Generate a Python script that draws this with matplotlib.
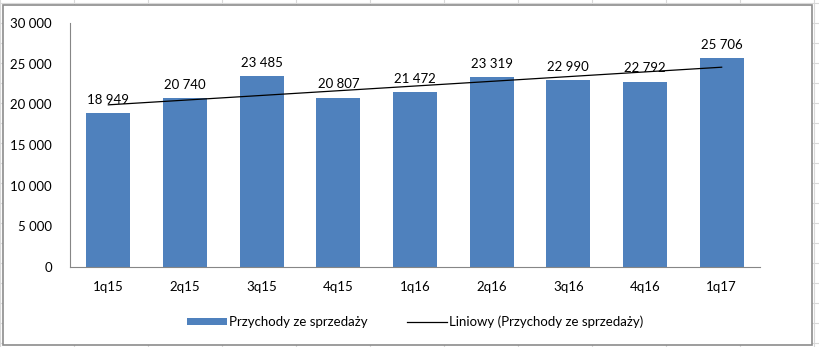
import numpy as np
import matplotlib.pyplot as plt
from matplotlib.patches import Rectangle
from matplotlib.lines import Line2D

quarters = ["1q15", "2q15", "3q15", "4q15", "1q16", "2q16", "3q16", "4q16", "1q17"]
revenue = [18949, 20740, 23485, 20807, 21472, 23319, 22990, 22792, 25706]
y_ticks = [0, 5000, 10000, 15000, 20000, 25000, 30000]

plt.rcParams["font.family"] = ["Lato", "DejaVu Sans"]
W, H = 819, 347
fig = plt.figure(figsize=(W / 100, H / 100), dpi=100)

# spreadsheet cells behind the chart
for gx in range(0, W + 1, 74):
    fig.add_artist(Line2D([gx / W, gx / W], [0, 1], color="#d9d9d9", lw=0.8, zorder=-3))
for gy in range(3, H + 1, 20):
    fig.add_artist(Line2D([0, 1], [1 - gy / H, 1 - gy / H], color="#d9d9d9", lw=0.8, zorder=-3))
fig.add_artist(Rectangle((3 / W, 1 - 345 / H), 809 / W, 340 / H, facecolor="white",
                         edgecolor="#8c8c8c", lw=1.2, transform=fig.transFigure, zorder=-2))

ax = fig.add_axes([70 / W, 1 - 267 / H, 690 / W, 244 / H])
ax.patch.set_alpha(0)
x = np.arange(len(quarters))
bars = ax.bar(x, revenue, width=0.57, color="#4f81bd", label="Przychody ze sprzedaży", zorder=2)

coef = np.polyfit(x, revenue, 1)
trend, = ax.plot(x, np.polyval(coef, x), color="black", lw=0.9, zorder=3,
                 label="Liniowy (Przychody ze sprzedaży)")

for xi, v in zip(x, revenue):
    ax.text(xi, v + 900, f"{v:,}".replace(",", " "), ha="center", va="bottom", fontsize=9.5)

ax.set_xlim(-0.5, len(quarters) - 0.5)
ax.set_ylim(0, 30000)
ax.set_yticks(y_ticks)
ax.set_yticklabels([f"{t:,}".replace(",", " ") for t in y_ticks], fontsize=9.5)
ax.set_xticks(x)
ax.set_xticklabels(quarters, fontsize=9.5)
ax.tick_params(length=0, pad=10)
ax.tick_params(axis="y", pad=13)
for s in ["top", "right"]:
    ax.spines[s].set_visible(False)
for s in ["left", "bottom"]:
    ax.spines[s].set_color("#868686")

ax.legend([bars, trend], [bars.get_label(), trend.get_label()],
          loc="center", bbox_to_anchor=(0.5, (267 - 322) / 244), ncol=2, frameon=False,
          fontsize=9.5, handlelength=3.0, handleheight=0.5, handletextpad=0.15,
          columnspacing=3.0)

fig.savefig("out.png", dpi=100)
